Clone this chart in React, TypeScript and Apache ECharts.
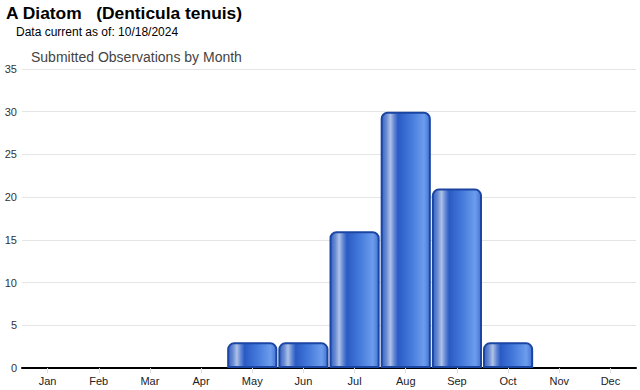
import React, { useEffect, useRef } from "react";
import * as echarts from "echarts";

const months = ["Jan", "Feb", "Mar", "Apr", "May", "Jun", "Jul", "Aug", "Sep", "Oct", "Nov", "Dec"];
const observations = [0, 0, 0, 0, 3, 3, 16, 30, 21, 3, 0, 0];
const yTicks = { min: 0, max: 35, interval: 5 };

export default function App() {
  const ref = useRef<HTMLDivElement>(null);
  useEffect(() => {
    if (!ref.current) return;
    const chart = echarts.init(ref.current, null, { renderer: "svg" });
    const barGradient = new echarts.graphic.LinearGradient(0, 0, 1, 0, [
      { offset: 0, color: "#3562c2" },
      { offset: 0.1, color: "#6a8cd4" },
      { offset: 0.18, color: "#afc2e6" },
      { offset: 0.26, color: "#6389d6" },
      { offset: 0.34, color: "#2a5ac4" },
      { offset: 0.6, color: "#4479da" },
      { offset: 0.88, color: "#6c9cec" },
      { offset: 1, color: "#4574d4" },
    ]);
    const font = "Liberation Sans, Arial, sans-serif";
    chart.setOption({
      animation: false,
      textStyle: { fontFamily: font },
      title: [
        {
          text: "A Diatom   (Denticula tenuis)",
          left: 6,
          top: 4,
          padding: 0,
          textStyle: { fontSize: 17.4, fontWeight: "bold", color: "#000", fontFamily: font },
        },
        {
          text: "Data current as of: 10/18/2024",
          left: 16,
          top: 26,
          padding: 0,
          textStyle: { fontSize: 12, fontWeight: "normal", color: "#000", fontFamily: font },
        },
        {
          text: "Submitted Observations by Month",
          left: 31,
          top: 50,
          padding: 0,
          textStyle: { fontSize: 14, fontWeight: "normal", color: "#444", fontFamily: font },
        },
      ],
      grid: { left: 22, right: 4, top: 69, bottom: 22, containLabel: false },
      xAxis: {
        type: "category",
        data: months,
        axisLine: { show: true, lineStyle: { color: "#000", width: 2 } },
        axisTick: { show: true, alignWithLabel: true, length: 5, lineStyle: { color: "#ddd" } },
        axisLabel: { color: "#222", fontSize: 11, margin: 7 },
      },
      yAxis: {
        type: "value",
        min: yTicks.min,
        max: yTicks.max,
        interval: yTicks.interval,
        axisLine: { show: false },
        axisTick: { show: false },
        axisLabel: { color: "#333", fontSize: 11, margin: 5 },
        splitLine: { lineStyle: { color: "#e4e4e4", width: 1 } },
      },
      series: [
        {
          type: "bar",
          data: observations.map((v) => (v === 0 ? null : v)),
          barCategoryGap: "2%",
          z: 1,
          itemStyle: {
            color: barGradient,
            borderColor: "#1a45a2",
            borderWidth: 2,
            borderRadius: [6, 6, 0, 0],
          },
        },
      ],
    });
    return () => chart.dispose();
  }, []);
  return (
    <div
      ref={ref}
      style={{ position: "fixed", left: 0, top: 0, width: 640, height: 390, background: "#fff" }}
    />
  );
}
